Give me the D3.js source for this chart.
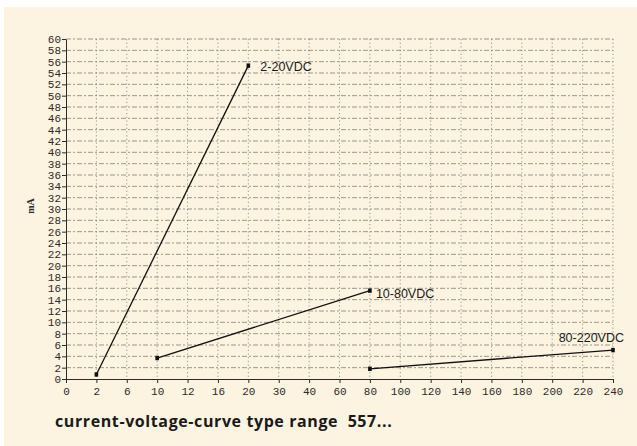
<!DOCTYPE html>
<html>
  <head>
    <meta charset="utf-8" />
    <title>current-voltage-curve</title>
    <script src="https://d3js.org/d3.v7.min.js"></script>
    <style>
      body {
        margin: 0;
        background: #ffffff;
      }
      svg {
        display: block;
      }
      .grid line {
        stroke: #5e5953;
        stroke-width: 0.8;
        opacity: 0.75;
      }
      .axis text {
        font-family: "Liberation Mono", monospace;
        font-size: 11px;
        fill: #2e2a26;
      }
      .axis path,
      .axis line {
        stroke: #2e2a26;
        stroke-width: 1;
      }
    </style>
  </head>
  <body>
    <svg width="637" height="446"></svg>
    <script>
      // x axis categories (volts, not evenly spaced on the original)
      const voltTicks = ["0", "2", "6", "10", "12", "16", "20", "30", "40", "60", "80",
        "100", "120", "140", "160", "180", "200", "220", "240"];
      // y axis ticks, mA
      const mATicks = d3.range(0, 61, 2);

      const seriesNames = ["2-20VDC", "10-80VDC", "80-220VDC"];
      const seriesVolts = [["2", "20"], ["10", "80"], ["80", "240"]];
      const seriesMilliamps = [[0.8, 55.3], [3.7, 15.6], [1.8, 5.1]];

      const svg = d3.select("svg");

      // beige panel
      svg.append("rect")
        .attr("x", 4).attr("y", 7)
        .attr("width", 633).attr("height", 439)
        .attr("fill", "#fcf3e1");

      const xScale = d3.scalePoint().domain(voltTicks).range([66, 613]);
      const yScale = d3.scaleLinear().domain([0, 60]).range([379, 39]);

      // grid
      const grid = svg.append("g").attr("class", "grid");
      grid.selectAll("line.h")
        .data(mATicks.slice(1))
        .enter()
        .append("line")
        .attr("class", "h")
        .attr("x1", 66).attr("x2", 613)
        .attr("y1", (d) => yScale(d)).attr("y2", (d) => yScale(d))
        .attr("stroke-dasharray", "5,2,2,2");
      grid.selectAll("line.v")
        .data(voltTicks.slice(1))
        .enter()
        .append("line")
        .attr("class", "v")
        .attr("y1", 39).attr("y2", 379)
        .attr("x1", (d) => xScale(d)).attr("x2", (d) => xScale(d))
        .attr("stroke-dasharray", "1.2,2.5");

      // axes
      svg.append("g")
        .attr("class", "axis")
        .attr("transform", "translate(0,379)")
        .call(d3.axisBottom(xScale).tickSize(4).tickPadding(4).tickSizeOuter(0));
      svg.append("g")
        .attr("class", "axis")
        .attr("transform", "translate(66,0)")
        .call(d3.axisLeft(yScale).tickValues(mATicks).tickSize(4).tickPadding(1).tickSizeOuter(0));

      // y label
      svg.append("text")
        .attr("transform", "translate(34,206) rotate(-90)")
        .attr("text-anchor", "middle")
        .attr("font-family", "Liberation Serif, serif")
        .attr("font-weight", "bold")
        .attr("font-size", 10)
        .attr("fill", "#2a2622")
        .text("mA");

      // lines
      const line = d3.line()
        .x((d) => xScale(d[0]))
        .y((d) => yScale(d[1]));

      const labelOffsets = [[12, 5, "start"], [6, 7, "start"], [11, -8, "end"]];

      seriesNames.forEach((name, i) => {
        const pts = seriesVolts[i].map((v, j) => [v, seriesMilliamps[i][j]]);
        svg.append("path")
          .datum(pts)
          .attr("d", line)
          .attr("fill", "none")
          .attr("stroke", "#111")
          .attr("stroke-width", 1.3);

        svg.selectAll("rect.m" + i)
          .data(pts)
          .enter()
          .append("rect")
          .attr("class", "m" + i)
          .attr("x", (d) => xScale(d[0]) - 1.8)
          .attr("y", (d) => yScale(d[1]) - 2.2)
          .attr("width", 3.6)
          .attr("height", 4.4)
          .attr("fill", "#111");

        const last = pts[pts.length - 1];
        svg.append("text")
          .attr("x", xScale(last[0]) + labelOffsets[i][0])
          .attr("y", yScale(last[1]) + labelOffsets[i][1])
          .attr("text-anchor", labelOffsets[i][2])
          .attr("font-family", "Liberation Sans, Arial, sans-serif")
          .attr("font-size", 12.5)
          .attr("fill", "#1a1a1a")
          .text(name);
      });

      // title
      svg.append("text")
        .attr("x", 55)
        .attr("y", 427)
        .attr("font-family", "Open Sans, sans-serif")
        .attr("font-weight", "bold")
        .attr("font-size", 16)
        .attr("letter-spacing", 0.6)
        .attr("fill", "#1a1a1a")
        .attr("xml:space", "preserve")
        .text("current-voltage-curve type range  557...");
    </script>
  </body>
</html>
